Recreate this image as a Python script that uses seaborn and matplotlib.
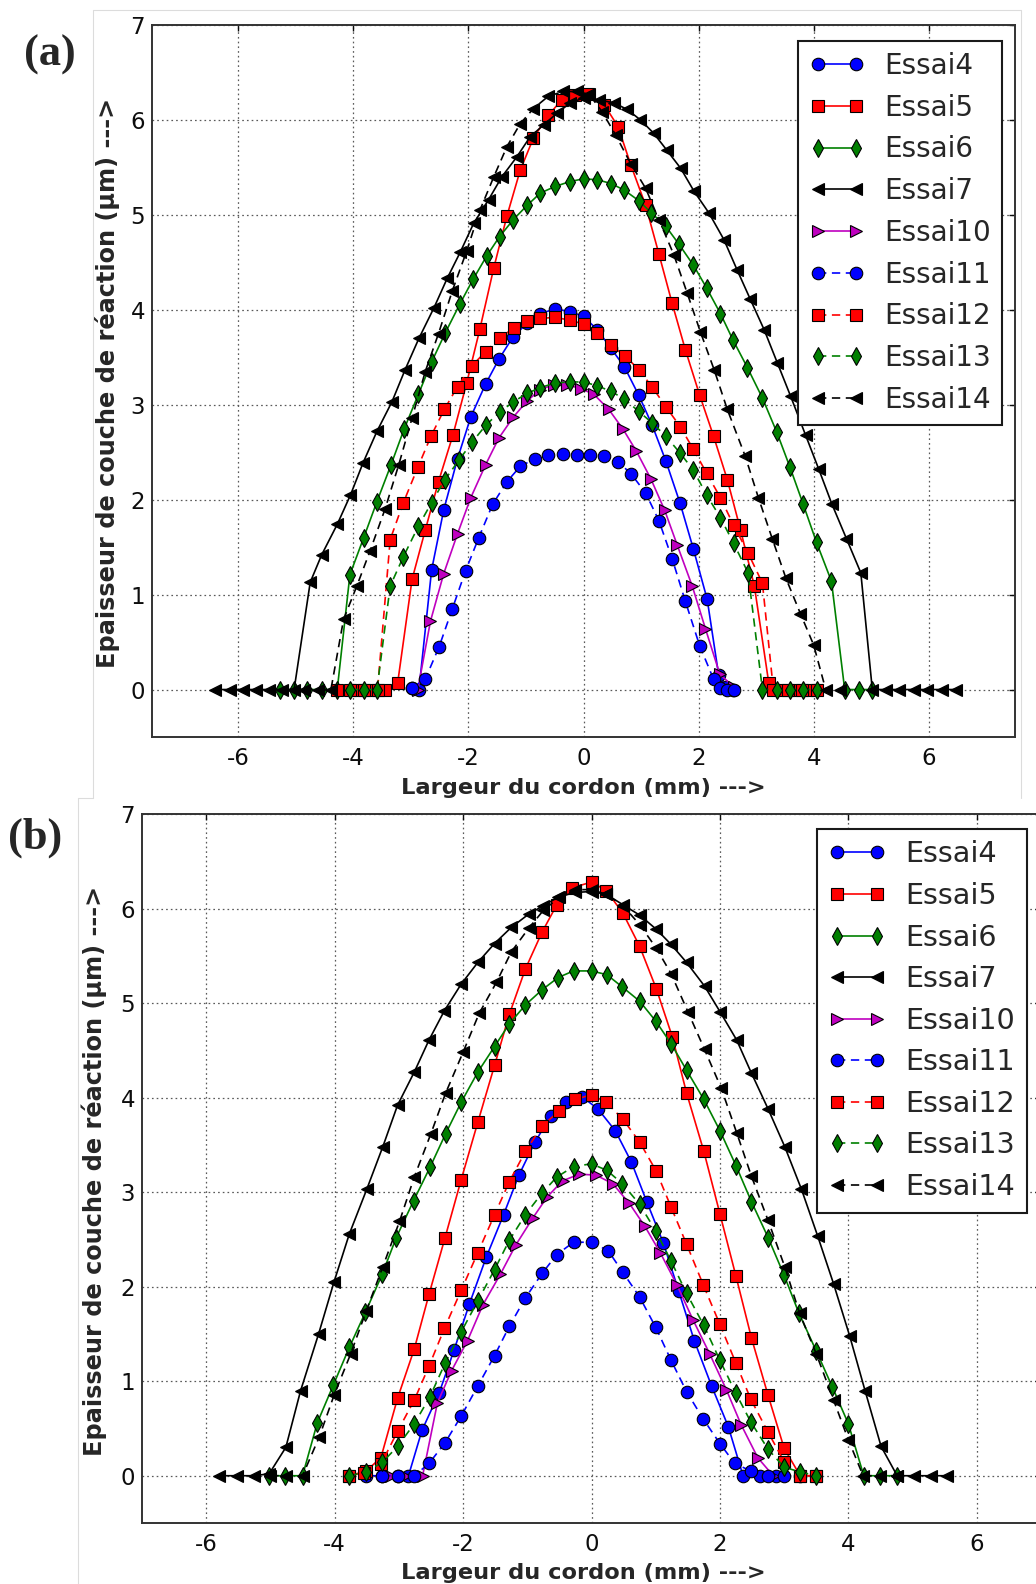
import matplotlib
matplotlib.use("Agg")
import matplotlib.pyplot as plt
import seaborn as sns
from matplotlib.lines import Line2D

# === Panel (a) data: Largeur du cordon (mm) vs epaisseur (um) ===
a_essai4_x = [-2.98, -2.86, -2.64, -2.43, -2.19, -1.96, -1.70, -1.47, -1.23, -0.98, -0.75, -0.49, -0.23,
              0.0, 0.24, 0.47, 0.71, 0.96, 1.19, 1.43, 1.68, 1.91, 2.15, 2.35, 2.48, 2.6]
a_essai4_y = [0.02, 0.0, 1.26, 1.89, 2.43, 2.87, 3.22, 3.48, 3.71, 3.86, 3.96, 4.01, 3.98,
              3.93, 3.79, 3.60, 3.40, 3.10, 2.79, 2.41, 1.96, 1.48, 0.95, 0.15, 0.03, 0.0]

a_essai5_x = [-3.92, -3.68, -3.45, -3.23, -2.98, -2.75, -2.52, -2.27, -2.03, -1.80, -1.56, -1.33, -1.10,
              -0.87, -0.61, -0.38, -0.15, 0.08, 0.36, 0.60, 0.82, 1.08, 1.31, 1.54, 1.77, 2.02, 2.26,
              2.50, 2.73, 2.97, 3.22, 3.45, 3.68, 3.91]
a_essai5_y = [0, 0, 0, 0.07, 1.16, 1.68, 2.19, 2.68, 3.23, 3.80, 4.44, 4.99, 5.47,
              5.81, 6.05, 6.21, 6.26, 6.27, 6.16, 5.93, 5.53, 5.10, 4.59, 4.07, 3.58, 3.10, 2.67,
              2.21, 1.68, 1.09, 0.07, 0, 0, 0]

a_essai6_x = [-5.27, -5.04, -4.81, -4.54, -4.28, -4.06, -3.82, -3.59, -3.35, -3.12, -2.87, -2.64, -2.40,
              -2.15, -1.92, -1.68, -1.46, -1.22, -0.98, -0.75, -0.49, -0.24, 0.0, 0.24, 0.48, 0.71,
              0.96, 1.18, 1.43, 1.66, 1.91, 2.14, 2.38, 2.60, 2.85, 3.11, 3.36, 3.59, 3.82, 4.05,
              4.31, 4.54, 4.78, 5.02]
a_essai6_y = [0, 0, 0, 0, 0, 1.21, 1.60, 1.98, 2.36, 2.74, 3.11, 3.45, 3.76,
              4.06, 4.32, 4.57, 4.77, 4.95, 5.10, 5.23, 5.30, 5.35, 5.38, 5.37, 5.33, 5.26,
              5.15, 5.02, 4.88, 4.69, 4.47, 4.23, 3.96, 3.68, 3.39, 3.07, 2.71, 2.34, 1.95, 1.55,
              1.14, 0, 0, 0]

a_essai7_x = [-6.40, -6.15, -5.92, -5.69, -5.47, -5.24, -5.03, -4.75, -4.55, -4.28, -4.05, -3.83, -3.59,
              -3.33, -3.10, -2.86, -2.60, -2.37, -2.14, -1.91, -1.65, -1.42, -1.16, -0.93, -0.69,
              -0.46, -0.23, 0.0, 0.27, 0.53, 0.76, 0.99, 1.22, 1.45, 1.69, 1.92, 2.18, 2.44, 2.67,
              2.90, 3.14, 3.37, 3.60, 3.86, 4.09, 4.32, 4.57, 4.82, 5.02, 5.25, 5.48, 5.74, 5.97,
              6.23, 6.47]
a_essai7_y = [0, 0, 0, 0, 0, 0, 0, 1.13, 1.42, 1.74, 2.05, 2.39, 2.72,
              3.03, 3.37, 3.70, 4.02, 4.33, 4.61, 4.91, 5.16, 5.40, 5.61, 5.82, 5.95,
              6.07, 6.18, 6.23, 6.21, 6.18, 6.11, 6.0, 5.86, 5.68, 5.49, 5.25, 5.02, 4.74, 4.42,
              4.11, 3.79, 3.44, 3.09, 2.68, 2.32, 1.95, 1.59, 1.23, 0, 0, 0, 0, 0,
              0, 0]

a_essai10_x = [-2.88, -2.66, -2.43, -2.19, -1.96, -1.70, -1.47, -1.22, -0.98, -0.75, -0.52, -0.28,
               -0.05, 0.18, 0.44, 0.69, 0.92, 1.17, 1.41, 1.63, 1.89, 2.12, 2.37, 2.61]
a_essai10_y = [0, 0.72, 1.22, 1.64, 2.02, 2.37, 2.65, 2.87, 3.04, 3.16, 3.21, 3.21,
               3.17, 3.11, 2.95, 2.74, 2.51, 2.22, 1.89, 1.52, 1.09, 0.64, 0.16, 0.03]

a_essai11_x = [-2.98, -2.75, -2.51, -2.28, -2.05, -1.82, -1.58, -1.33, -1.10, -0.85, -0.61, -0.36, -0.12,
               0.12, 0.35, 0.60, 0.83, 1.08, 1.31, 1.54, 1.77, 2.02, 2.26, 2.38, 2.50, 2.61]
a_essai11_y = [0.02, 0.11, 0.45, 0.85, 1.25, 1.60, 1.95, 2.19, 2.35, 2.43, 2.47, 2.48, 2.47,
               2.47, 2.46, 2.40, 2.27, 2.07, 1.78, 1.38, 0.93, 0.46, 0.11, 0.02, 0.0, 0.0]

a_essai12_x = [-4.28, -4.05, -3.81, -3.58, -3.36, -3.13, -2.88, -2.65, -2.42, -2.19, -1.94, -1.70, -1.46,
               -1.21, -0.98, -0.75, -0.49, -0.23, 0.0, 0.23, 0.47, 0.73, 0.96, 1.19, 1.43, 1.68,
               1.91, 2.14, 2.38, 2.61, 2.86, 3.11, 3.30, 3.55, 3.80, 4.05]
a_essai12_y = [0, 0, 0, 0, 1.58, 1.97, 2.34, 2.67, 2.95, 3.19, 3.41, 3.56, 3.70,
               3.81, 3.88, 3.91, 3.92, 3.89, 3.85, 3.76, 3.63, 3.51, 3.37, 3.19, 2.98, 2.77,
               2.53, 2.28, 2.02, 1.73, 1.44, 1.12, 0, 0, 0, 0]

a_essai13_x = [-4.06, -3.82, -3.59, -3.36, -3.13, -2.87, -2.64, -2.41, -2.16, -1.93, -1.69, -1.46, -1.22,
               -0.98, -0.75, -0.49, -0.23, 0.0, 0.24, 0.48, 0.71, 0.96, 1.19, 1.43, 1.68, 1.91,
               2.14, 2.38, 2.61, 2.86, 3.11, 3.36, 3.59, 3.82, 4.05]
a_essai13_y = [0, 0, 0, 1.09, 1.40, 1.72, 1.97, 2.21, 2.42, 2.61, 2.79, 2.92, 3.03,
               3.12, 3.18, 3.23, 3.24, 3.24, 3.20, 3.14, 3.06, 2.93, 2.81, 2.67, 2.49, 2.31,
               2.05, 1.81, 1.54, 1.23, 0, 0, 0, 0, 0]

a_essai14_x = [-4.85, -4.62, -4.39, -4.17, -3.94, -3.71, -3.45, -3.21, -2.98, -2.75, -2.52, -2.28, -2.03,
               -1.80, -1.56, -1.33, -1.10, -0.87, -0.61, -0.35, -0.12, 0.10, 0.33, 0.56, 0.82, 1.08,
               1.31, 1.57, 1.80, 2.03, 2.27, 2.50, 2.81, 3.04, 3.28, 3.52, 3.77, 4.0, 4.21, 4.45]
a_essai14_y = [0, 0, 0, 0.74, 1.09, 1.46, 1.90, 2.37, 2.86, 3.35, 3.75, 4.2, 4.62,
               5.05, 5.40, 5.72, 5.96, 6.12, 6.25, 6.30, 6.30, 6.27, 6.08, 5.84, 5.54, 5.28,
               4.95, 4.58, 4.18, 3.77, 3.37, 2.95, 2.46, 2.02, 1.59, 1.17, 0.80, 0.47, 0, 0]

# === Panel (b) data ===
b_essai4_x = [-3.51, -3.26, -3.02, -2.85, -2.64, -2.37, -2.14, -1.90, -1.64, -1.37, -1.13, -0.88,
              -0.63, -0.39, -0.15, 0.10, 0.37, 0.62, 0.86, 1.12, 1.36, 1.60, 1.87, 2.13, 2.36, 2.62, 2.88]
b_essai4_y = [0, 0, 0, 0, 0.48, 0.88, 1.33, 1.82, 2.31, 2.76, 3.18, 3.53,
              3.81, 3.95, 4.01, 3.88, 3.65, 3.32, 2.90, 2.46, 1.95, 1.43, 0.95, 0.52, 0, 0, 0]

b_essai5_x = [-3.77, -3.51, -3.28, -3.02, -2.76, -2.53, -2.28, -2.03, -1.77, -1.51, -1.28, -1.03, -0.77,
              -0.54, -0.30, 0.0, 0.23, 0.49, 0.75, 1.01, 1.26, 1.48, 1.75, 2.0, 2.25, 2.49, 2.75, 3.0,
              3.25, 3.5]
b_essai5_y = [0, 0.05, 0.19, 0.82, 1.34, 1.92, 2.52, 3.13, 3.74, 4.34, 4.88, 5.36, 5.75,
              6.04, 6.22, 6.28, 6.19, 5.95, 5.60, 5.15, 4.64, 4.05, 3.43, 2.77, 2.11, 1.46, 0.85, 0.29,
              0, 0]

b_essai6_x = [-5.02, -4.77, -4.50, -4.27, -4.02, -3.77, -3.52, -3.26, -3.04, -2.77, -2.51, -2.27, -2.03,
              -1.77, -1.51, -1.28, -1.03, -0.77, -0.52, -0.28, 0.0, 0.24, 0.48, 0.75, 1.0, 1.24, 1.48,
              1.75, 2.0, 2.25, 2.49, 2.75, 3.0, 3.23, 3.50, 3.75, 4.0, 4.24, 4.50, 4.76]
b_essai6_y = [0, 0, 0, 0.56, 0.96, 1.36, 1.73, 2.13, 2.52, 2.91, 3.27, 3.62, 3.95,
              4.27, 4.54, 4.78, 4.98, 5.14, 5.27, 5.34, 5.34, 5.30, 5.17, 5.02, 4.81, 4.57, 4.29,
              3.98, 3.65, 3.28, 2.90, 2.52, 2.12, 1.72, 1.32, 0.94, 0.55, 0, 0, 0]

b_essai7_x = [-5.80, -5.52, -5.26, -5.02, -4.76, -4.53, -4.25, -4.01, -3.77, -3.50, -3.25, -3.02, -2.76,
              -2.53, -2.29, -2.03, -1.77, -1.51, -1.25, -0.98, -0.75, -0.52, -0.26, 0.0, 0.23, 0.49,
              0.75, 1.01, 1.24, 1.48, 1.76, 2.0, 2.26, 2.49, 2.75, 3.01, 3.27, 3.52, 3.77, 4.02, 4.26,
              4.51, 4.76, 5.02, 5.28, 5.53]
b_essai7_y = [0, 0, 0, 0.02, 0.30, 0.90, 1.50, 2.05, 2.56, 3.03, 3.48, 3.92, 4.27,
              4.61, 4.92, 5.20, 5.43, 5.63, 5.80, 5.94, 6.03, 6.12, 6.17, 6.18, 6.15, 6.04,
              5.93, 5.78, 5.62, 5.43, 5.18, 4.91, 4.61, 4.26, 3.88, 3.48, 3.03, 2.54, 2.03, 1.48, 0.90,
              0.31, 0, 0, 0, 0]

b_essai10_x = [-3.12, -2.90, -2.63, -2.40, -2.18, -1.93, -1.69, -1.42, -1.18, -0.91, -0.69, -0.45, -0.19,
               0.07, 0.33, 0.59, 0.83, 1.07, 1.33, 1.58, 1.84, 2.10, 2.33, 2.59, 2.83]
b_essai10_y = [0, 0, 0, 0.77, 1.11, 1.43, 1.81, 2.13, 2.44, 2.73, 2.95, 3.12, 3.19,
               3.18, 3.09, 2.88, 2.64, 2.36, 2.02, 1.65, 1.29, 0.91, 0.54, 0.19, 0]

b_essai11_x = [-3.26, -3.02, -2.76, -2.53, -2.28, -2.03, -1.77, -1.51, -1.28, -1.03, -0.77, -0.54, -0.28,
               0.0, 0.26, 0.49, 0.75, 1.0, 1.24, 1.48, 1.74, 2.0, 2.23, 2.48, 2.75, 3.0, 3.25]
b_essai11_y = [0, 0, 0, 0.13, 0.35, 0.63, 0.95, 1.27, 1.58, 1.88, 2.14, 2.34, 2.47,
               2.47, 2.38, 2.15, 1.89, 1.57, 1.22, 0.89, 0.60, 0.34, 0.13, 0.05, 0, 0, 0]

b_essai12_x = [-3.77, -3.54, -3.28, -3.02, -2.76, -2.53, -2.29, -2.03, -1.77, -1.51, -1.28, -1.03, -0.77,
               -0.50, -0.26, 0.0, 0.23, 0.49, 0.75, 1.01, 1.24, 1.48, 1.74, 2.0, 2.25, 2.48, 2.75, 3.0,
               3.25, 3.5]
b_essai12_y = [0, 0.03, 0.12, 0.47, 0.80, 1.16, 1.56, 1.96, 2.36, 2.76, 3.11, 3.43, 3.70,
               3.86, 3.98, 4.03, 3.95, 3.77, 3.53, 3.22, 2.84, 2.45, 2.02, 1.60, 1.19, 0.81, 0.46, 0.15,
               0, 0]

b_essai13_x = [-3.77, -3.51, -3.26, -3.02, -2.76, -2.52, -2.28, -2.03, -1.77, -1.51, -1.28, -1.03, -0.77,
               -0.54, -0.28, 0.0, 0.24, 0.48, 0.75, 1.0, 1.24, 1.48, 1.75, 2.0, 2.25, 2.48, 2.75, 3.0,
               3.25, 3.5]
b_essai13_y = [0, 0.04, 0.14, 0.31, 0.55, 0.83, 1.19, 1.52, 1.85, 2.18, 2.49, 2.76, 2.99,
               3.16, 3.27, 3.30, 3.23, 3.09, 2.87, 2.59, 2.27, 1.93, 1.59, 1.22, 0.87, 0.57, 0.28, 0.09,
               0.04, 0.0]

b_essai14_x = [-5.0, -4.75, -4.5, -4.24, -4.01, -3.75, -3.51, -3.25, -2.99, -2.76, -2.50, -2.27, -2.0,
               -1.75, -1.48, -1.25, -0.98, -0.75, -0.50, -0.26, 0.0, 0.23, 0.49, 0.75, 1.01, 1.24, 1.50,
               1.76, 2.02, 2.26, 2.49, 2.75, 3.01, 3.24, 3.50, 3.77, 4.0, 4.23, 4.5, 4.76]
b_essai14_y = [0, 0, 0, 0.41, 0.85, 1.29, 1.74, 2.21, 2.69, 3.16, 3.62, 4.05, 4.48,
               4.89, 5.22, 5.54, 5.79, 5.98, 6.12, 6.2, 6.2, 6.15, 6.03, 5.83, 5.58, 5.31, 4.91,
               4.51, 4.10, 3.63, 3.17, 2.70, 2.21, 1.72, 1.29, 0.80, 0.38, 0, 0, 0]

names = ["Essai4", "Essai5", "Essai6", "Essai7", "Essai10", "Essai11", "Essai12", "Essai13", "Essai14"]
x_ticks = [-6, -4, -2, 0, 2, 4, 6]
y_ticks = [0, 1, 2, 3, 4, 5, 6, 7]

panel_a = dict(zip(names, [(a_essai4_x, a_essai4_y), (a_essai5_x, a_essai5_y), (a_essai6_x, a_essai6_y),
                           (a_essai7_x, a_essai7_y), (a_essai10_x, a_essai10_y), (a_essai11_x, a_essai11_y),
                           (a_essai12_x, a_essai12_y), (a_essai13_x, a_essai13_y), (a_essai14_x, a_essai14_y)]))
panel_b = dict(zip(names, [(b_essai4_x, b_essai4_y), (b_essai5_x, b_essai5_y), (b_essai6_x, b_essai6_y),
                           (b_essai7_x, b_essai7_y), (b_essai10_x, b_essai10_y), (b_essai11_x, b_essai11_y),
                           (b_essai12_x, b_essai12_y), (b_essai13_x, b_essai13_y), (b_essai14_x, b_essai14_y)]))

# === Old matplotlib look: colour, marker, line style ===
dash = (0, (6, 4))
styles = {
    "Essai4": ("#0000ff", "o", "-"),
    "Essai5": ("#ff0000", "s", "-"),
    "Essai6": ("#008000", "d", "-"),
    "Essai7": ("#000000", "<", "-"),
    "Essai10": ("#bf00bf", ">", "-"),
    "Essai11": ("#0000ff", "o", dash),
    "Essai12": ("#ff0000", "s", dash),
    "Essai13": ("#008000", "d", dash),
    "Essai14": ("#000000", "<", dash),
}

sns.set_style("white")
plt.rcParams['font.family'] = ['DejaVu Sans']
plt.rcParams['lines.scale_dashes'] = False
plt.rcParams['axes.unicode_minus'] = False

W, H = 1036, 1584
fig = plt.figure(figsize=(W / 100, H / 100), dpi=100, facecolor="white")


def px_box(left, top, right, bottom):
    return [left / W, 1 - bottom / H, (right - left) / W, (bottom - top) / H]


def draw_panel(ax, data, xlim, leg_anchor, leg_fs, leg_space, xlabel_x, ylabel_x):
    for name in names:
        color, marker, ls = styles[name]
        x, y = data[name]
        sns.lineplot(x=x, y=y, ax=ax, sort=False, estimator=None, errorbar=None,
                     color=color, marker=marker, markersize=9, markeredgecolor="k",
                     markeredgewidth=0.8, linestyle=ls, linewidth=1.2, label=name)

    ax.set_xlim(*xlim)
    ax.set_ylim(-0.5, 7)
    ax.set_xticks(x_ticks)
    ax.set_yticks(y_ticks)
    ax.grid(True, color="0.35", linestyle=(0, (1.2, 2.2)), linewidth=0.9)
    ax.tick_params(direction="in", top=True, right=True, length=4, width=1,
                   labelsize=16.5, colors="0.05")
    ax.tick_params(axis="x", pad=7)
    ax.tick_params(axis="y", pad=5)
    for spine in ax.spines.values():
        spine.set_color("0.2")
        spine.set_linewidth(1.4)

    ax.set_xlabel("Largeur du cordon (mm) --->", fontsize=16.2, fontweight="bold")
    ax.set_ylabel("Epaisseur de couche de réaction (µm) --->", fontsize=17.3, fontweight="bold")
    ax.xaxis.set_label_coords(xlabel_x, -0.057)
    ax.yaxis.set_label_coords(ylabel_x, 0.497)

    handles, labels = ax.get_legend_handles_labels()
    leg = ax.legend(handles, labels, loc="upper right", bbox_to_anchor=leg_anchor, borderaxespad=0,
                    numpoints=2, fontsize=leg_fs, frameon=True, fancybox=False, framealpha=1,
                    edgecolor="0.1", handlelength=2.0, handletextpad=0.7, labelspacing=leg_space,
                    borderpad=0.4)
    leg.get_frame().set_linewidth(1.5)


# === Panel (a) ===
ax_a = fig.add_axes(px_box(152, 25, 1015, 737))
draw_panel(ax_a, panel_a, (-7.5, 7.5), (0.985, 0.978), 20, 0.495, 0.5, -0.037)

# === Panel (b) (right edge of the original was cut off) ===
ax_b = fig.add_axes(px_box(142, 814, 1041, 1523))
draw_panel(ax_b, panel_b, (-7, 7), (0.984, 0.979), 20.6, 0.475, 0.4905, -0.039)

# === Panel letters ===
fig.text(50 / W, 1 - 55 / H, "(a)", ha="center", va="center", fontsize=32,
         fontweight="bold", family="Liberation Serif")
fig.text(35 / W, 1 - 838 / H, "(b)", ha="center", va="center", fontsize=32,
         fontweight="bold", family="Liberation Serif")

# === Faint frames of the pasted images ===
frame_col = "#dcdcdc"
for xs, ys in [([93, 93, 1021, 1021], [798, 10, 10, 798]),
               ([78, 78, 93], [1584, 798, 798])]:
    fig.add_artist(Line2D([v / W for v in xs], [1 - v / H for v in ys],
                          color=frame_col, linewidth=0.8))

fig.savefig("out.png", dpi=100, facecolor=fig.get_facecolor())
